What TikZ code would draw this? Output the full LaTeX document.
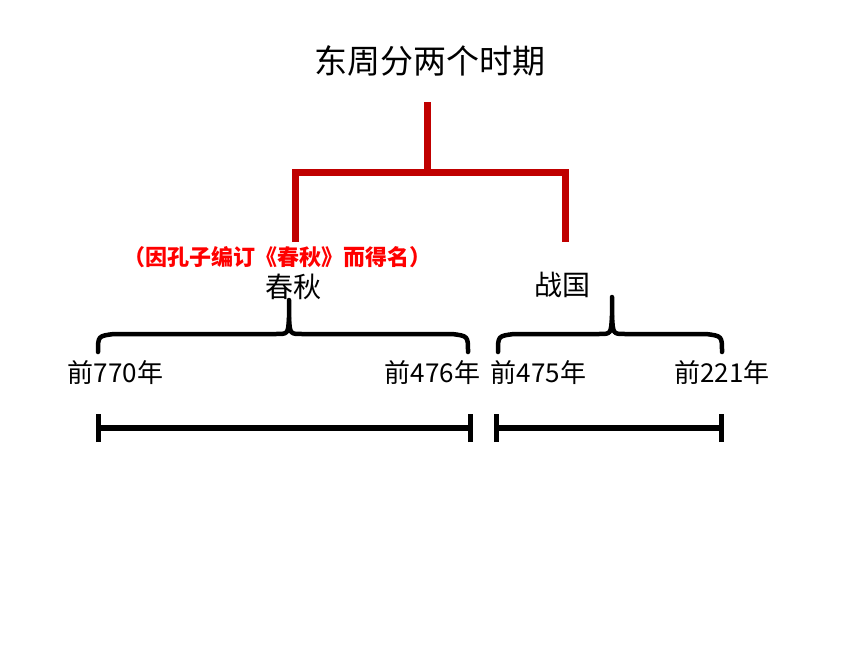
\documentclass[tikz,border=0pt]{standalone}
\usepackage{fontspec}
\setmainfont{Noto Sans CJK SC}
\definecolor{darkred}{RGB}{192,0,0}
\definecolor{txtred}{RGB}{255,0,0}
\begin{document}
\begin{tikzpicture}[x=1pt,y=-1pt,
  redline/.style={draw=darkred,line width=7pt},
  bracel/.style={draw=black,line width=4.5pt,line cap=round,line join=round},
  tline/.style={draw=black,line width=6pt},
  tick/.style={draw=black,line width=5pt},
  lbl/.style={font=\fontsize{26}{28}\selectfont,inner sep=0pt},
  per/.style={font=\fontsize{28}{30}\selectfont,inner sep=0pt}]
\useasboundingbox (0,0) rectangle (860,645);
% title
\node[font=\fontsize{33}{36}\selectfont,inner sep=0pt] (title) at (430,61) {东周分两个时期};
% red tree
\coordinate (stemtop) at (427,102);
\coordinate (stembot) at (427,172);
\coordinate (lt) at (295,172);
\coordinate (rt) at (565,172);
\coordinate (lb) at (295,242);
\coordinate (rb) at (565,242);
\draw[redline] (stemtop) -- (stembot);
\draw[redline,line join=miter] (lb) -- (lt) -- (rt) -- (rb);
% red note
\node[font=\fontsize{22}{24}\selectfont\bfseries,text=txtred,inner sep=0pt] (note) at (277,257) {（因孔子编订《春秋》而得名）};
% periods
\node[per] (cq) at (293,287) {春秋};
\node[per] (zg) at (562,285) {战国};
% braces
\coordinate (b1l) at (98,352);
\coordinate (b1r) at (468,352);
\coordinate (b1t) at (289,300);
\draw[bracel] (b1l) .. controls (98,336) .. (114,334) -- (276,334) .. controls (288,334) .. (289,318) -- (b1t);
\draw[bracel] (289,318) .. controls (290,334) .. (302,334) -- (452,334) .. controls (468,336) .. (b1r);
\coordinate (b2l) at (498,352);
\coordinate (b2r) at (722,352);
\coordinate (b2t) at (612,297);
\draw[bracel] (b2l) .. controls (498,336) .. (514,334) -- (599,334) .. controls (611,334) .. (612,316) -- (b2t);
\draw[bracel] (612,316) .. controls (613,334) .. (625,334) -- (706,334) .. controls (722,336) .. (b2r);
% year labels
\node[lbl] (y1) at (115.5,373) {前770年};
\node[lbl] (y2) at (432.5,373) {前476年};
\node[lbl] (y3) at (538.5,373) {前475年};
\node[lbl] (y4) at (722,373) {前221年};
% timeline
\coordinate (t1) at (98,428);
\coordinate (t2) at (470,428);
\coordinate (t3) at (496,428);
\coordinate (t4) at (721,428);
\draw[tline] (t1) -- (t2);
\draw[tline] (t3) -- (t4);
\foreach \p in {t1,t2,t3,t4} \draw[tick] ([yshift=-14pt]\p) -- ([yshift=14pt]\p);
\end{tikzpicture}
\end{document}
